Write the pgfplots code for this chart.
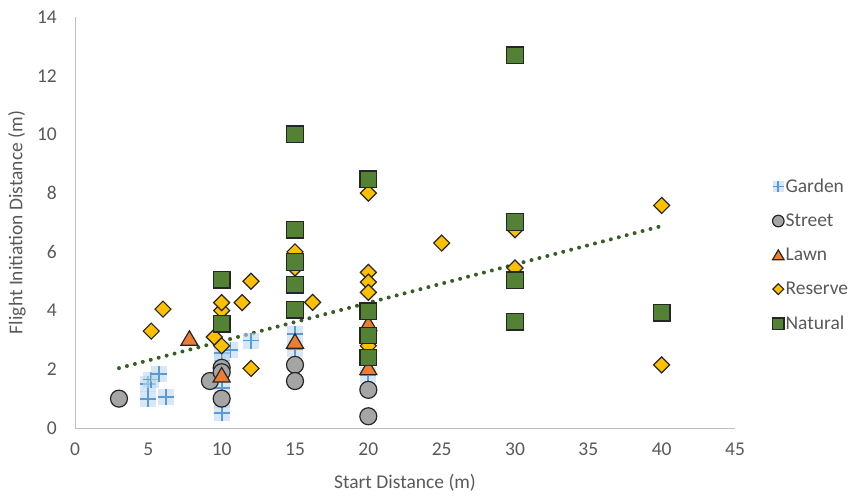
\documentclass[border=0pt]{standalone}
\usepackage{pgfplots}
\pgfplotsset{compat=1.18}
\usepackage{fontspec}
\setmainfont{Carlito}
\definecolor{txt}{HTML}{595959}
\definecolor{axl}{HTML}{BFBFBF}
\definecolor{gblue}{HTML}{5B9BD5}
\definecolor{gbg}{HTML}{BDD7EE}
\definecolor{sgray}{HTML}{A5A5A5}
\definecolor{lorange}{HTML}{ED7D31}
\definecolor{ryellow}{HTML}{FFC000}
\definecolor{ngreen}{HTML}{548235}
\definecolor{tgreen}{HTML}{385D24}
\definecolor{edge}{HTML}{262626}

\pgfdeclareplotmark{gplus}{%
  \begin{pgfscope}
  \pgfsetfillopacity{0.6}\pgfsetfillcolor{gbg}
  \pgfpathrectangle{\pgfqpoint{-\pgfplotmarksize}{-\pgfplotmarksize}}{\pgfqpoint{2\pgfplotmarksize}{2\pgfplotmarksize}}
  \pgfusepathqfill
  \end{pgfscope}
  \pgfpathmoveto{\pgfqpoint{-\pgfplotmarksize}{0pt}}\pgfpathlineto{\pgfqpoint{\pgfplotmarksize}{0pt}}
  \pgfpathmoveto{\pgfqpoint{0pt}{-\pgfplotmarksize}}\pgfpathlineto{\pgfqpoint{0pt}{\pgfplotmarksize}}
  \pgfusepathqstroke
}
\pgfdeclareplotmark{xdiam}{%
  \pgfpathmoveto{\pgfqpoint{0pt}{\pgfplotmarksize}}
  \pgfpathlineto{\pgfqpoint{\pgfplotmarksize}{0pt}}
  \pgfpathlineto{\pgfqpoint{0pt}{-\pgfplotmarksize}}
  \pgfpathlineto{\pgfqpoint{-\pgfplotmarksize}{0pt}}
  \pgfpathclose
  \pgfusepathqfillstroke
}
\pgfdeclareplotmark{xtri}{%
  \pgfpathmoveto{\pgfqpoint{0pt}{0.9\pgfplotmarksize}}
  \pgfpathlineto{\pgfqpoint{\pgfplotmarksize}{-0.8\pgfplotmarksize}}
  \pgfpathlineto{\pgfqpoint{-\pgfplotmarksize}{-0.8\pgfplotmarksize}}
  \pgfpathclose
  \pgfusepathqfillstroke
}

\begin{document}
\begin{tikzpicture}
\useasboundingbox (-75pt,-69pt) rectangle (786pt,428pt);
\begin{axis}[
  at={(0,0)}, anchor=south west,
  scale only axis, width=660pt, height=411pt,
  xmin=0, xmax=45, ymin=0, ymax=14,
  xtick={0,5,...,45}, ytick={0,2,...,14},
  major tick length=0pt,
  axis x line*=bottom, axis y line*=left,
  axis line style={draw=axl, line width=0.9pt, -},
  clip=false,
  /pgf/number format/assume math mode=true,
  tick label style={font=\fontsize{19.5}{23}\selectfont, text=txt},
  xticklabel style={inner sep=0pt, yshift=-15pt},
  yticklabel style={inner sep=0pt, xshift=-18pt},
  xlabel={Start Distance (m)}, ylabel={Flight Initiation Distance (m)},
  label style={font=\fontsize{19.5}{23}\selectfont, text=txt},
  xlabel style={at={(axis description cs:0.5,-0.1338)}, anchor=center},
  ylabel style={at={(axis description cs:-0.0879,0.5)}, anchor=center},
  legend style={at={(axis description cs:1.052,0.615)}, anchor=north west,
    draw=none, fill=none, font=\fontsize{19.5}{23}\selectfont, text=txt,
    row sep=17pt, nodes={inner sep=1.5pt}},
  legend image code/.code={\draw[#1,/tikz/every mark/.append style={scale=0.68}] plot coordinates {(0.25cm,0cm)};},
  legend cell align=left,
]
\addplot[only marks, mark=gplus, mark size=8pt, draw=gblue, line width=1.8pt] coordinates {
(5,1.0)(5,1.5)(5.2,1.65)(5.7,1.85)(6.2,1.05)
(10,0.5)(10,0.95)(10,1.35)(10,2.3)(10,2.55)(10.6,2.65)(12,2.98)
(15,2.7)(15,3.2)(20,1.8)};
\addlegendentry{Garden}
\addplot[only marks, mark=*, mark size=8.5pt, mark options={fill=sgray, draw=edge, line width=1.2pt}] coordinates {
(3,1.0)(9.2,1.6)(10,2.05)(10,1.9)(10,1.0)(15,2.15)(15,1.6)(20,1.3)(20,0.4)};
\addlegendentry{Street}
\addplot[only marks, mark=xtri, mark size=8.5pt, mark options={fill=lorange, draw=edge, line width=1.2pt}] coordinates {
(7.8,3.05)(10,1.8)(15,2.95)(20,3.55)(20,2.05)};
\addlegendentry{Lawn}
\addplot[only marks, mark=xdiam, mark size=8pt, mark options={fill=ryellow, draw=edge, line width=1.2pt}] coordinates {
(5.2,3.3)(6,4.05)(9.5,3.1)(10,2.8)(10,4.0)(10,4.27)(11.4,4.27)(12,5.0)(12,2.03)
(15,6.0)(15,5.45)(16.2,4.28)(20,8.0)(20,5.3)(20,4.97)(20,4.62)(20,2.8)
(25,6.3)(30,6.75)(30,5.45)(40,7.58)(40,2.15)};
\addlegendentry{Reserve}
\addplot[only marks, mark=square*, mark size=8.3pt, mark options={fill=ngreen, draw=edge, line width=1.3pt}] coordinates {
(10,5.05)(10,3.55)(15,10.0)(15,6.75)(15,5.65)(15,4.88)(15,4.03)
(20,8.47)(20,3.97)(20,3.15)(20,2.40)
(30,12.7)(30,7.02)(30,5.03)(30,3.62)(40,3.93)};
\addlegendentry{Natural}
\addplot[tgreen, line width=4pt, line cap=round, dash pattern=on 0pt off 8.2pt, forget plot] coordinates {(3,2.04)(40,6.88)};
\end{axis}
\end{tikzpicture}
\end{document}
